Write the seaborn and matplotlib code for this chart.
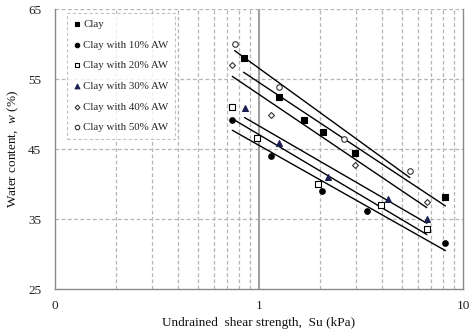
import numpy as np
import pandas as pd
import matplotlib
matplotlib.use("Agg")
import matplotlib.pyplot as plt
from matplotlib.ticker import LogLocator, NullFormatter
import seaborn as sns

# ---- data ----
series_names = ["Clay", "Clay with 10% AW", "Clay with 20% AW",
                "Clay with 30% AW", "Clay with 40% AW", "Clay with 50% AW"]

su_clay = [0.84, 1.26, 1.66, 2.05, 2.96, 8.2]
w_clay = [58.0, 52.4, 49.2, 47.5, 44.5, 38.2]

su_10 = [0.74, 1.15, 2.04, 3.40, 8.2]
w_10 = [49.2, 44.0, 39.1, 36.2, 31.6]

su_20 = [0.74, 0.98, 1.94, 3.95, 6.65]
w_20 = [51.0, 46.6, 40.1, 37.0, 33.6]

su_30 = [0.85, 1.26, 2.19, 4.27, 6.65]
w_30 = [50.9, 45.9, 41.1, 37.9, 35.1]

su_40 = [0.74, 1.15, 2.96, 6.65]
w_40 = [57.1, 49.9, 42.8, 37.5]

su_50 = [0.76, 1.26, 2.60, 5.49]
w_50 = [60.0, 53.9, 46.5, 41.9]

x_ticks = [0.1, 1, 10]
x_tick_labels = ["0", "1", "10"]
y_ticks = [25, 35, 45, 55, 65]

su_all = [su_clay, su_10, su_20, su_30, su_40, su_50]
w_all = [w_clay, w_10, w_20, w_30, w_40, w_50]

# ---- styles ----
styles = [
    dict(marker="s", facecolor="black", edgecolor="black", s=16),
    dict(marker="o", facecolor="black", edgecolor="black", s=16),
    dict(marker="s", facecolor="white", edgecolor="black", s=16),
    dict(marker="^", facecolor="#1c2050", edgecolor="#1c2050", s=18),
    dict(marker="D", facecolor="white", edgecolor="#333333", s=9),
    dict(marker="o", facecolor="white", edgecolor="#333333", s=16),
]

sns.set_theme(style="white")
plt.rcParams["font.family"] = ["Liberation Serif", "DejaVu Serif"]
plt.rcParams["mathtext.fontset"] = "custom"
plt.rcParams["mathtext.it"] = "Liberation Serif:italic"
plt.rcParams["mathtext.rm"] = "Liberation Serif"

fig = plt.figure(figsize=(4.74, 3.32), dpi=100)
ax = fig.add_axes([55 / 474, 1 - 289.3 / 332, 408 / 474, 280 / 332])

ax.set_xscale("log")
ax.set_xlim(0.1, 10)
ax.set_ylim(25, 65)

# grid
grid_c = "#b5b5b5"
for yv in [35, 45, 55, 65]:
    ax.axhline(yv, color=grid_c, lw=0.9, ls=(0, (3, 2)), zorder=0)
for dec in [0.1, 1]:
    for m in range(2, 10):
        ax.axvline(dec * m, color=grid_c, lw=0.9, ls=(0, (3, 2)), zorder=0)
ax.axvline(1, color="#a0a0a0", lw=1.5, zorder=0)

# trend lines (log fits) and points
for name, su, w, st in zip(series_names, su_all, w_all, styles):
    df = pd.DataFrame({"su": su, "w": w})
    sns.regplot(data=df, x="su", y="w", logx=True, ci=None, scatter=False,
                truncate=True, ax=ax, color="black",
                line_kws=dict(lw=1.0, zorder=2))
    sns.scatterplot(data=df, x="su", y="w", ax=ax, marker=st["marker"],
                    s=st["s"], facecolor=st["facecolor"],
                    edgecolor=st["edgecolor"], linewidth=0.8,
                    label=name, zorder=3)

# axes styling
ax.spines["top"].set_visible(False)
for side in ["left", "bottom", "right"]:
    ax.spines[side].set_color("#8a8a8a")
    ax.spines[side].set_linewidth(1.0)

ax.set_xticks(x_ticks)
ax.set_xticklabels(x_tick_labels)
ax.xaxis.set_minor_locator(LogLocator(base=10, subs=np.arange(2, 10)))
ax.xaxis.set_minor_formatter(NullFormatter())
ax.set_yticks(y_ticks)
ax.tick_params(axis="both", which="both", direction="out", colors="#8a8a8a",
               labelcolor="#222222", labelsize=9.5)
ax.tick_params(axis="x", which="major", length=4, pad=4)
ax.tick_params(axis="x", which="minor", length=3)
ax.tick_params(axis="y", which="major", length=4, pad=6)

ax.set_xlabel("Undrained  shear strength,  Su (kPa)", fontsize=9.5,
              color="#111111", labelpad=3)
ax.set_ylabel("Water content,  $w$ (%)", fontsize=9.5, color="#111111",
              labelpad=5)

leg = ax.legend(loc="upper left", bbox_to_anchor=(0.029, 0.987),
                borderaxespad=0, frameon=True, fancybox=False,
                fontsize=7.8, handlelength=0.6, handletextpad=0.3,
                labelspacing=1.02, borderpad=0.6, markerscale=0.8)
fr = leg.get_frame()
fr.set_edgecolor("#b5b5b5")
fr.set_linestyle((0, (3, 2)))
fr.set_linewidth(0.8)
fr.set_facecolor("white")

fig.savefig("out.png", dpi=100)
